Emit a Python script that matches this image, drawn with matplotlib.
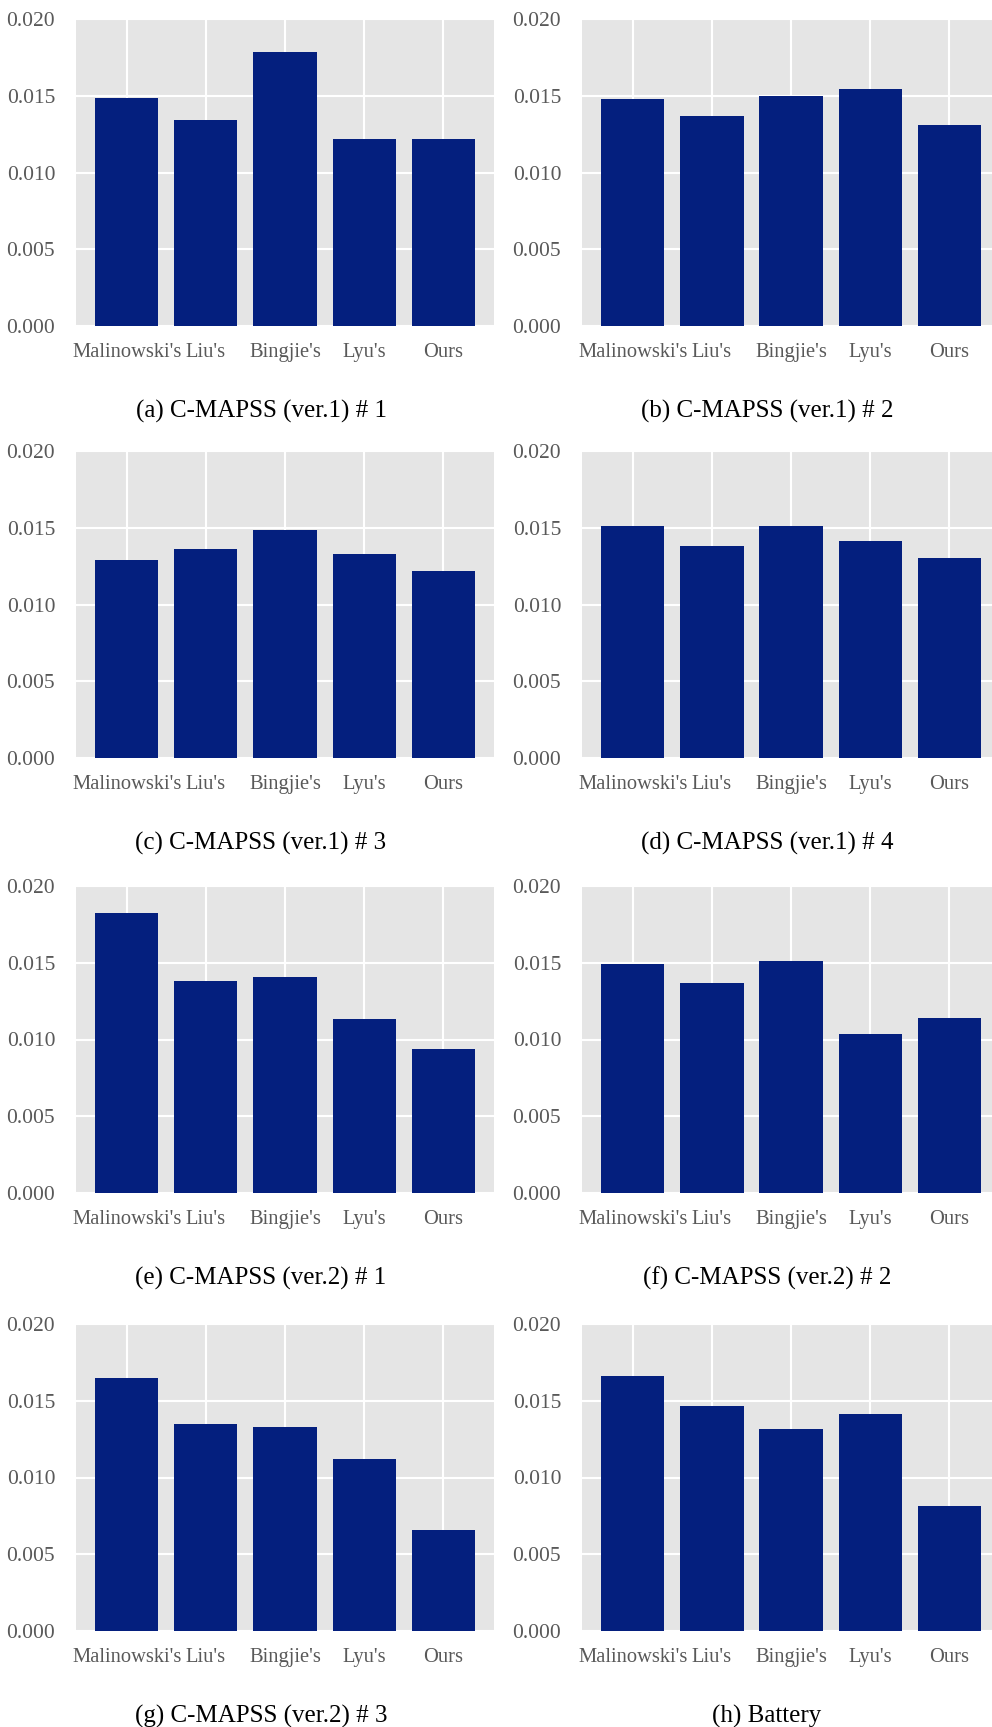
import numpy as np
import matplotlib
matplotlib.use("Agg")
import matplotlib.pyplot as plt

# datos
metodos = ["Malinowski's", "Liu's", "Bingjie's", "Lyu's", "Ours"]

cmapss1_1 = [0.01487, 0.01340, 0.01787, 0.01216, 0.01216]
cmapss1_2 = [0.01479, 0.01370, 0.01498, 0.01546, 0.01310]
cmapss1_3 = [0.01287, 0.01363, 0.01487, 0.01326, 0.01220]
cmapss1_4 = [0.01511, 0.01380, 0.01511, 0.01413, 0.01300]
cmapss2_1 = [0.01824, 0.01380, 0.01404, 0.01133, 0.00941]
cmapss2_2 = [0.01491, 0.01365, 0.01513, 0.01033, 0.01143]
cmapss2_3 = [0.01650, 0.01346, 0.01326, 0.01122, 0.00657]
battery = [0.01661, 0.01467, 0.01313, 0.01411, 0.00813]

titulos = ["(a) C-MAPSS (ver.1) # 1", "(b) C-MAPSS (ver.1) # 2",
           "(c) C-MAPSS (ver.1) # 3", "(d) C-MAPSS (ver.1) # 4",
           "(e) C-MAPSS (ver.2) # 1", "(f) C-MAPSS (ver.2) # 2",
           "(g) C-MAPSS (ver.2) # 3", "(h) Battery"]
series = [cmapss1_1, cmapss1_2, cmapss1_3, cmapss1_4,
          cmapss2_1, cmapss2_2, cmapss2_3, battery]
yticks = [0.000, 0.005, 0.010, 0.015, 0.020]

plt.rcParams['font.family'] = ['Liberation Serif', 'DejaVu Serif']

W, H = 992, 1727
fig = plt.figure(figsize=(W / 100, H / 100), dpi=100)

# posiciones en pixeles
lefts = [76, 582]
ancho = 418
tops = [19, 451, 886, 1324]
alto = 307
caption_x = [261, 767]

for i, (valores, titulo) in enumerate(zip(series, titulos)):
    fila, col = divmod(i, 2)
    ax = fig.add_axes([lefts[col] / W, 1 - (tops[fila] + alto) / H,
                       ancho / W, alto / H])
    ax.set_facecolor("#e5e5e5")
    x = np.arange(len(metodos))
    ax.bar(x, valores, width=0.8, color="#041f7e", zorder=3)
    ax.set_xticks(x)
    ax.set_xticklabels(metodos)
    ax.set_yticks(yticks)
    ax.set_yticklabels([f"{v:.3f}" for v in yticks])
    ax.set_ylim(0, 0.020)
    ax.grid(True, color="white", linewidth=1.5, zorder=0)
    for s in ax.spines.values():
        s.set_visible(False)
    ax.tick_params(axis="both", length=0, colors="#595959")
    ax.tick_params(axis="y", pad=15, labelsize=15.5)
    ax.tick_params(axis="x", pad=12, labelsize=14.8)
    fig.text(caption_x[col] / W, 1 - (tops[fila] + alto + 85) / H, titulo,
             ha="center", va="center", fontsize=18, color="black")

fig.savefig("out.png", dpi=100)
